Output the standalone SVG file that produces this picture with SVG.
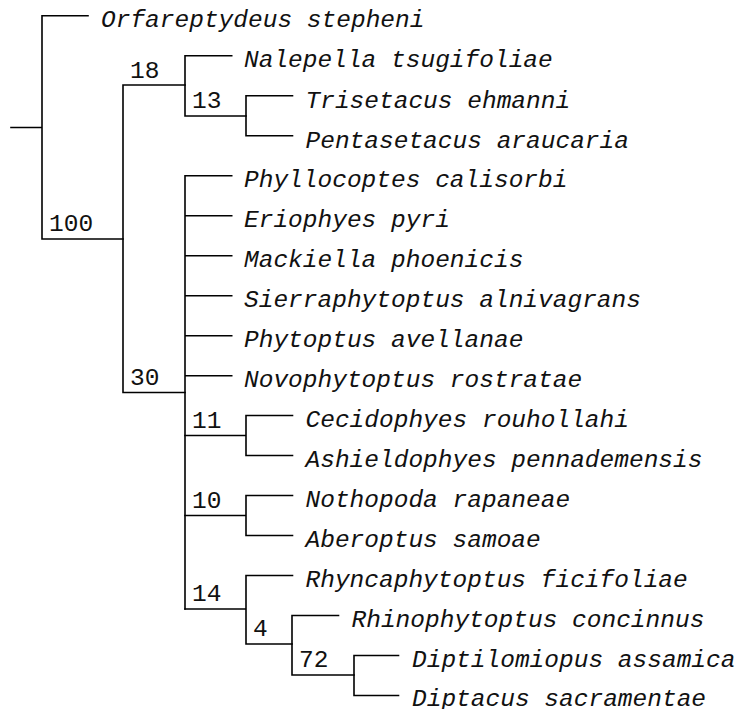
<svg xmlns="http://www.w3.org/2000/svg" width="741" height="709" viewBox="0 0 741 709">
<style>
.br{fill:none;stroke:#000;stroke-width:1.6;stroke-linecap:square}
.lf{font-family:"Liberation Mono","Courier New",monospace;font-size:24.5px;font-style:italic;fill:#111}
.nl{font-family:"Liberation Mono","Courier New",monospace;font-size:24.5px;fill:#111}
</style>
<rect width="741" height="709" fill="#fff"/>
<g id="connectors" class="br">
<path d="M11,127.5H42M42,15.7V239H123M42,15.7H88"/>
<path d="M123,85V392.5H185M123,85H185"/>
<path d="M185,55.7V116H246M185,55.7H231.7"/>
<path d="M246,95.7V135.7M246,95.7H292.5M246,135.7H292.5"/>
<path d="M185,175.7V609M185,175.7H231.7M185,215.7H231.7M185,255.7H231.7M185,295.7H231.7M185,335.7H231.7M185,375.7H231.7"/>
<path d="M185,435.5H246V415.5H292.5M246,435.5V455.5H292.5"/>
<path d="M185,515.5H246V495.5H292.5M246,515.5V535.5H292.5"/>
<path d="M185,609H246V575.5H292.5M246,609V644H292"/>
<path d="M292,644V615.5H338.5M292,644V675H354"/>
<path d="M354,675V655.5H398.5M354,675V695.5H398.5"/>
</g>
<g id="leaf-orfareptydeus"><text class="lf" x="101" y="26.7">Orfareptydeus stepheni</text></g>
<g id="leaf-nalepella"><text class="lf" x="244" y="66.7">Nalepella tsugifoliae</text></g>
<g id="leaf-trisetacus"><text class="lf" x="305.5" y="107.7">Trisetacus ehmanni</text></g>
<g id="leaf-pentasetacus"><text class="lf" x="305.5" y="147.7">Pentasetacus araucaria</text></g>
<g id="leaf-phyllocoptes"><text class="lf" x="244" y="187.2">Phyllocoptes calisorbi</text></g>
<g id="leaf-eriophyes"><text class="lf" x="244" y="227.2">Eriophyes pyri</text></g>
<g id="leaf-mackiella"><text class="lf" x="244" y="267.2">Mackiella phoenicis</text></g>
<g id="leaf-sierraphytoptus"><text class="lf" x="244" y="307.2">Sierraphytoptus alnivagrans</text></g>
<g id="leaf-phytoptus"><text class="lf" x="244" y="347.2">Phytoptus avellanae</text></g>
<g id="leaf-novophytoptus"><text class="lf" x="244" y="387.2">Novophytoptus rostratae</text></g>
<g id="leaf-cecidophyes"><text class="lf" x="305.5" y="427">Cecidophyes rouhollahi</text></g>
<g id="leaf-ashieldophyes"><text class="lf" x="305.5" y="467">Ashieldophyes pennademensis</text></g>
<g id="leaf-nothopoda"><text class="lf" x="305.5" y="507">Nothopoda rapaneae</text></g>
<g id="leaf-aberoptus"><text class="lf" x="305.5" y="547">Aberoptus samoae</text></g>
<g id="leaf-rhyncaphytoptus"><text class="lf" x="305.5" y="587">Rhyncaphytoptus ficifoliae</text></g>
<g id="leaf-rhinophytoptus"><text class="lf" x="351.5" y="627">Rhinophytoptus concinnus</text></g>
<g id="leaf-diptilomiopus"><text class="lf" x="412" y="667">Diptilomiopus assamica</text></g>
<g id="leaf-diptacus"><text class="lf" x="412" y="705.7">Diptacus sacramentae</text></g>
<g id="node-100"><text class="nl" x="49" y="231">100</text></g>
<g id="node-18"><text class="nl" x="130" y="77.5">18</text></g>
<g id="node-13"><text class="nl" x="192" y="108">13</text></g>
<g id="node-30"><text class="nl" x="130" y="384.5">30</text></g>
<g id="node-11"><text class="nl" x="192" y="427.5">11</text></g>
<g id="node-10"><text class="nl" x="192" y="507.5">10</text></g>
<g id="node-14"><text class="nl" x="192" y="601">14</text></g>
<g id="node-4"><text class="nl" x="253" y="636">4</text></g>
<g id="node-72"><text class="nl" x="299" y="667">72</text></g>
</svg>
